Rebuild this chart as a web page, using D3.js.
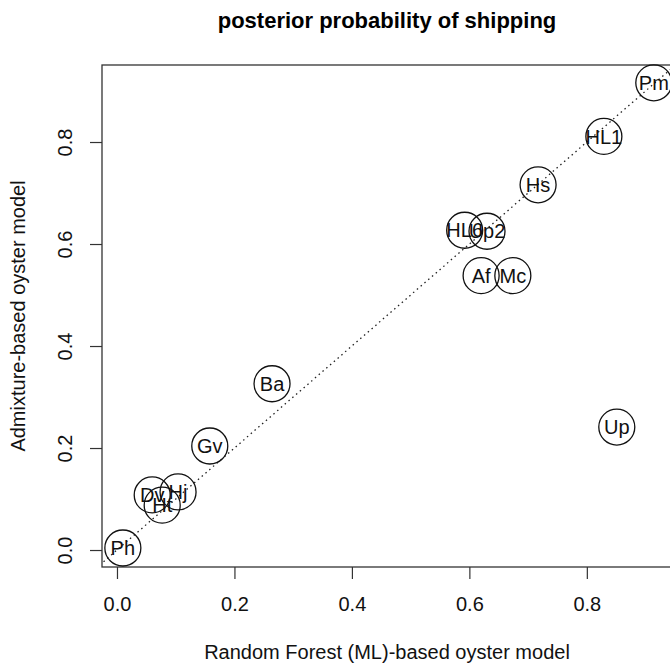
<!DOCTYPE html>
<html>
<head>
<meta charset="utf-8">
<script src="https://cdn.jsdelivr.net/npm/d3@7"></script>
<style>
  body { margin: 0; background: #fff; }
  text { font-family: "Liberation Sans", Arial, sans-serif; }
</style>
</head>
<body>
<script>
// data
const sites = ['Ph', 'Dv', 'Ht', 'Hj', 'Gv', 'Ba', 'HL6', 'Up2', 'Af', 'Mc', 'Hs', 'HL1', 'Pm', 'Up'];
const rfModel = [0.010, 0.060, 0.077, 0.104, 0.158, 0.264, 0.592, 0.630, 0.620, 0.674, 0.717, 0.829, 0.914, 0.851];
const admixModel = [0.004, 0.108, 0.088, 0.114, 0.204, 0.326, 0.627, 0.625, 0.538, 0.538, 0.716, 0.811, 0.916, 0.241];
const xTicks = [0, 0.2, 0.4, 0.6, 0.8];
const yTicks = [0, 0.2, 0.4, 0.6, 0.8];

const width = 670;
const height = 665;
const plot = { left: 102, right: 672, top: 65, bottom: 567 };
const font = '"Liberation Sans", Arial, sans-serif';

const svg = d3.select('body')
    .append('svg')
    .attr('width', width)
    .attr('height', height);

const xScale = d3.scaleLinear()
    .domain([-0.0255, 0.945])
    .range([plot.left, plot.right]);

const yScale = d3.scaleLinear()
    .domain([-0.0333, 0.951])
    .range([plot.bottom, plot.top]);

svg.append('clipPath')
    .attr('id', 'clip')
    .append('rect')
    .attr('x', plot.left)
    .attr('y', plot.top)
    .attr('width', plot.right - plot.left)
    .attr('height', plot.bottom - plot.top);

// 1:1 reference line
svg.append('line')
    .attr('clip-path', 'url(#clip)')
    .attr('x1', xScale(-0.1))
    .attr('y1', yScale(-0.1))
    .attr('x2', xScale(1.1))
    .attr('y2', yScale(1.1))
    .attr('stroke', '#222')
    .attr('stroke-width', 1.3)
    .attr('stroke-dasharray', '1.5,3.5');

const xAxis = d3.axisBottom(xScale)
    .tickValues(xTicks)
    .tickFormat(d3.format('.1f'))
    .tickSize(12)
    .tickPadding(18);

const gx = svg.append('g')
    .attr('transform', 'translate(0,' + plot.bottom + ')')
    .call(xAxis);
gx.select('.domain').remove();
gx.selectAll('text').attr('font-size', 20).attr('fill', '#111').attr('font-family', font);
gx.selectAll('line').attr('stroke', '#333').attr('stroke-width', 1.2);

const yAxis = d3.axisLeft(yScale)
    .tickValues(yTicks)
    .tickFormat(d3.format('.1f'))
    .tickSize(12)
    .tickPadding(12);

const gy = svg.append('g')
    .attr('transform', 'translate(' + plot.left + ',0)')
    .call(yAxis);
gy.select('.domain').remove();
gy.selectAll('line').attr('stroke', '#333').attr('stroke-width', 1.2);
gy.selectAll('text')
    .attr('font-size', 20)
    .attr('fill', '#111')
    .attr('font-family', font)
    .attr('x', null).attr('dy', null)
    .attr('text-anchor', 'middle')
    .attr('transform', 'translate(-30,0) rotate(-90)');

// box
svg.append('rect')
    .attr('x', plot.left)
    .attr('y', plot.top)
    .attr('width', plot.right - plot.left)
    .attr('height', plot.bottom - plot.top)
    .attr('fill', 'none')
    .attr('stroke', '#333')
    .attr('stroke-width', 1.3);

const pts = svg.append('g').selectAll('g')
    .data(sites)
    .enter()
    .append('g')
    .attr('transform', (d, i) => 'translate(' + xScale(rfModel[i]) + ',' + yScale(admixModel[i]) + ')');

pts.append('circle')
    .attr('r', 18)
    .attr('fill', 'none')
    .attr('stroke', '#111')
    .attr('stroke-width', 1.3);

pts.append('text')
    .attr('text-anchor', 'middle')
    .attr('dy', '0.36em')
    .attr('font-size', 20)
    .attr('fill', '#111')
    .text(d => d);

svg.append('text')
    .attr('x', (plot.left + plot.right) / 2)
    .attr('y', 28)
    .attr('text-anchor', 'middle')
    .attr('font-size', 22)
    .attr('font-weight', 'bold')
    .text('posterior probability of shipping');

svg.append('text')
    .attr('x', (plot.left + plot.right) / 2)
    .attr('y', 659)
    .attr('text-anchor', 'middle')
    .attr('font-size', 20)
    .attr('fill', '#111')
    .text('Random Forest (ML)-based oyster model');

svg.append('text')
    .attr('transform', 'translate(25,' + (plot.top + plot.bottom) / 2 + ') rotate(-90)')
    .attr('text-anchor', 'middle')
    .attr('font-size', 20)
    .attr('fill', '#111')
    .text('Admixture-based oyster model');
</script>
</body>
</html>
